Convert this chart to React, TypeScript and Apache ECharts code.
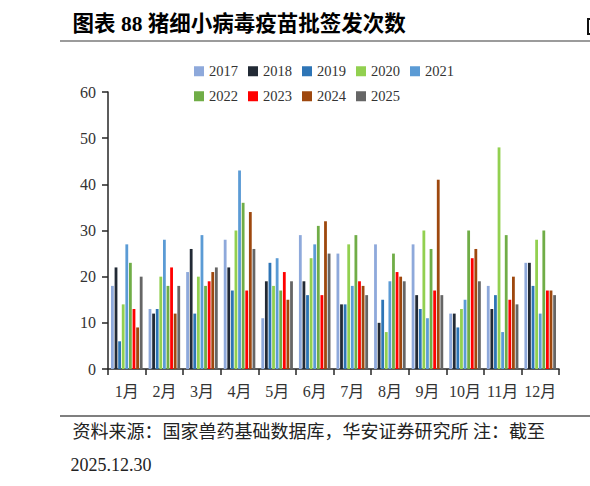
import React, { useEffect, useRef } from "react";
import * as echarts from "echarts";

const months = ["1月", "2月", "3月", "4月", "5月", "6月", "7月", "8月", "9月", "10月", "11月", "12月"];
const years = ["2017", "2018", "2019", "2020", "2021", "2022", "2023", "2024", "2025"];
const colors = ["#8EA9DB", "#222A35", "#2E75B6", "#92D050", "#5B9BD5", "#70AD47", "#FF0000", "#9E480E", "#666666"];

const v2017 = [18, 13, 21, 28, 11, 29, 25, 27, 27, 12, 18, 23];
const v2018 = [22, 12, 26, 22, 19, 19, 14, 10, 16, 12, 13, 23];
const v2019 = [6, 13, 12, 17, 23, 16, 14, 15, 13, 9, 16, 18];
const v2020 = [14, 20, 20, 30, 18, 24, 27, 8, 30, 13, 48, 28];
const v2021 = [27, 28, 29, 43, 24, 27, 18, 19, 11, 15, 8, 12];
const v2022 = [23, 18, 18, 36, 17, 31, 29, 25, 26, 30, 29, 30];
const v2023 = [13, 22, 19, 17, 21, 16, 19, 21, 17, 24, 15, 17];
const v2024 = [9, 12, 21, 34, 15, 32, 18, 20, 41, 26, 20, 17];
const v2025 = [20, 18, 22, 26, 19, 25, 16, 19, 16, 19, 14, 16];
const seriesValues = [v2017, v2018, v2019, v2020, v2021, v2022, v2023, v2024, v2025];

const yTicks = { min: 0, max: 60, interval: 10 };

const titleText = "图表 88 猪细小病毒疫苗批签发次数";
const sourceText = "资料来源：国家兽药基础数据库，华安证券研究所 注：截至";
const dateText = "2025.12.30";

const FONT = "'Liberation Serif', 'Noto Sans CJK SC', serif";

export default function App() {
  const ref = useRef<HTMLDivElement>(null);
  useEffect(() => {
    document.body.style.margin = "0";
    if (!ref.current) return;
    const chart = echarts.init(ref.current, undefined, { renderer: "svg" });
    const legendCommon = {
      left: 194,
      orient: "horizontal",
      padding: 0,
      itemWidth: 10,
      itemHeight: 10,
      itemGap: 10,
      icon: "rect",
      textStyle: { fontFamily: FONT, fontSize: 14.5, color: "#333" },
    };
    chart.setOption({
      animation: false,
      backgroundColor: "#fff",
      color: colors,
      textStyle: { fontFamily: FONT },
      legend: [
        { ...legendCommon, top: 64, data: years.slice(0, 5) },
        { ...legendCommon, top: 89, data: years.slice(5) },
      ],
      grid: { left: 108, right: 31, top: 92, bottom: 117, containLabel: false },
      xAxis: {
        type: "category",
        data: months,
        axisLine: { lineStyle: { color: "#262626", width: 1.5 } },
        axisTick: { show: true, length: 6, lineStyle: { color: "#262626", width: 1.5 } },
        axisLabel: { fontFamily: FONT, fontSize: 16, color: "#333", margin: 14, interval: 0 },
      },
      yAxis: {
        type: "value",
        min: yTicks.min,
        max: yTicks.max,
        interval: yTicks.interval,
        axisLine: { show: true, lineStyle: { color: "#262626", width: 1.5 } },
        axisTick: { show: true, length: 6, lineStyle: { color: "#262626", width: 1.5 } },
        axisLabel: { fontFamily: FONT, fontSize: 16, color: "#333", margin: 12 },
        splitLine: { show: false },
      },
      series: years.map((y, i) => ({
        name: y,
        type: "bar",
        data: seriesValues[i],
        barGap: "28%",
        barCategoryGap: "16%",
        itemStyle: { color: colors[i] },
      })),
      graphic: [
        {
          type: "text",
          left: 72.5,
          top: 13.5,
          style: { text: titleText, fontFamily: FONT, fontSize: 21.5, fontWeight: "bold", fill: "#000" },
        },
        {
          type: "polyline",
          shape: { points: [[591, 19], [588, 19], [588, 34], [591, 34]] },
          style: { stroke: "#111", lineWidth: 2, fill: "none" },
        },
        {
          type: "line",
          shape: { x1: 60, y1: 41, x2: 590, y2: 41 },
          style: { stroke: "#7a7a7a", lineWidth: 1.5 },
        },
        {
          type: "line",
          shape: { x1: 60, y1: 416, x2: 590, y2: 416 },
          style: { stroke: "#555", lineWidth: 1.5 },
        },
        {
          type: "text",
          x: 72.5,
          y: 432,
          style: { text: sourceText, fontFamily: FONT, fontSize: 18, fill: "#222", verticalAlign: "middle" },
        },
        {
          type: "text",
          x: 70.5,
          y: 465,
          style: { text: dateText, fontFamily: FONT, fontSize: 18, fill: "#222", verticalAlign: "middle" },
        },
      ],
    });
    return () => chart.dispose();
  }, []);
  return <div ref={ref} style={{ width: 590, height: 486 }} />;
}
